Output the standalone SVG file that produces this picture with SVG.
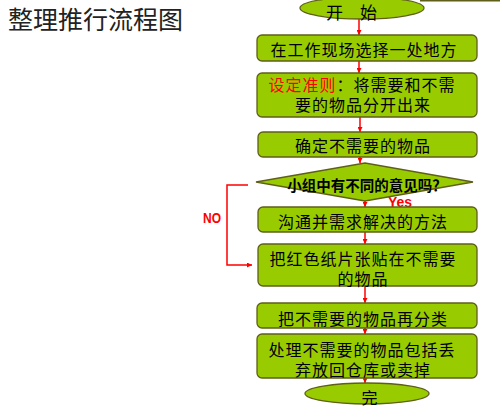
<svg xmlns="http://www.w3.org/2000/svg" width="500" height="416" viewBox="0 0 500 416">
<defs>
<style>
.box{fill:#99cc00;stroke:#5f5f1a;stroke-width:1.3}
.t{font-family:"Noto Sans CJK SC","Noto Sans",sans-serif;font-size:16px;letter-spacing:1px;fill:#000;text-anchor:middle}
.red{fill:#ff0000}
.lbl{font-family:"Liberation Sans",Arial,sans-serif;font-weight:bold;font-size:14px;fill:#ff0000}
.c{stroke:#ff0000;stroke-width:1.5;fill:none}
</style>
<marker id="ah" viewBox="0 0 10 10" refX="10" refY="5" markerWidth="5" markerHeight="5" markerUnits="userSpaceOnUse" orient="auto">
<path d="M0,0 L10,5 L0,10 Z" fill="#ff0000"/>
</marker>
</defs>
<rect width="500" height="416" fill="#ffffff"/>
<text x="8" y="29" font-family="'Noto Sans CJK SC','Noto Sans',sans-serif" font-size="25" fill="#222">整理推行流程图</text>
<line x1="420" y1="0.7" x2="500" y2="0.7" stroke="#5f5f1a" stroke-width="1.4"/>

<g id="connectors">
<line class="c" x1="359" y1="19" x2="359" y2="35" marker-end="url(#ah)"/>
<line class="c" x1="359" y1="61" x2="359" y2="73" marker-end="url(#ah)"/>
<line class="c" x1="360" y1="117" x2="360" y2="132" marker-end="url(#ah)"/>
<line class="c" x1="360" y1="157" x2="360" y2="163" marker-end="url(#ah)"/>
<line class="c" x1="365" y1="201" x2="365" y2="207" marker-end="url(#ah)"/>
<line class="c" x1="365" y1="232" x2="365" y2="244" marker-end="url(#ah)"/>
<line class="c" x1="365" y1="286" x2="365" y2="303" marker-end="url(#ah)"/>
<line class="c" x1="365" y1="328" x2="365" y2="334" marker-end="url(#ah)"/>
<line class="c" x1="365" y1="378" x2="365" y2="383" marker-end="url(#ah)"/>
<polyline class="c" points="248,185 227,185 227,265 252,265" marker-end="url(#ah)"/>
<text class="lbl" x="203" y="223" textLength="18" lengthAdjust="spacingAndGlyphs">NO</text>
<text class="lbl" x="388" y="207" textLength="24" lengthAdjust="spacingAndGlyphs">Yes</text>
</g>

<g id="start">
<ellipse class="box" cx="362" cy="8" rx="62" ry="11"/>
<text class="t" x="335" y="19" text-anchor="start" style="font-size:17px">开</text>
<text class="t" x="369" y="19" text-anchor="start" style="font-size:17px">始</text>
</g>
<g id="n1">
<rect class="box" x="257" y="35" width="220" height="26" rx="5"/>
<text class="t" x="364" y="56">在工作现场选择一处地方</text>
</g>
<g id="n2">
<rect class="box" x="257" y="73" width="220" height="44" rx="5"/>
<text class="t" x="362" y="91"><tspan class="red">设定准则</tspan>：将需要和不需<tspan x="363" dy="20">要的物品分开出来</tspan></text>
</g>
<g id="n3">
<rect class="box" x="258" y="132" width="219" height="25" rx="5"/>
<text class="t" x="363" y="152">确定不需要的物品</text>
</g>
<g id="decision">
<polygon class="box" points="256,182 365,163 473,182 365,201"/>
<text class="t" x="367" y="191" style="font-size:14.5px;font-weight:bold;letter-spacing:0">小组中有不同的意见吗？</text>
</g>
<g id="n4">
<rect class="box" x="258" y="207" width="219" height="25" rx="5"/>
<text class="t" x="363" y="228">沟通并需求解决的方法</text>
</g>
<g id="n5">
<rect class="box" x="258" y="244" width="219" height="42" rx="5"/>
<text class="t" x="363" y="265">把红色纸片张贴在不需要<tspan x="363" dy="20">的物品</tspan></text>
</g>
<g id="n6">
<rect class="box" x="257" y="303" width="220" height="25" rx="5"/>
<text class="t" x="363" y="325">把不需要的物品再分类</text>
</g>
<g id="n7">
<rect class="box" x="257" y="334" width="220" height="44" rx="5"/>
<text class="t" x="362" y="356">处理不需要的物品包括丢<tspan x="363" dy="20">弃放回仓库或卖掉</tspan></text>
</g>
<g id="end">
<ellipse class="box" cx="367" cy="393.5" rx="62" ry="10.5"/>
<text class="t" x="370" y="404">完</text>
</g>
</svg>
